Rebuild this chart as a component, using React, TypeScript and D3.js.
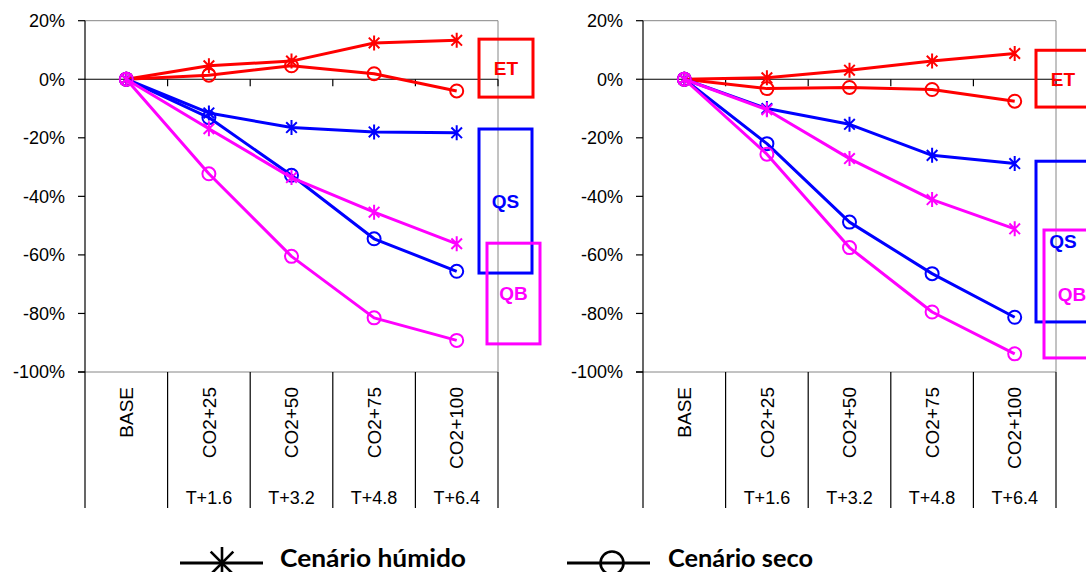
import React from "react";
import * as d3 from "d3";

// ---------- data ----------
const CATEGORIES = ["BASE", "CO2+25", "CO2+50", "CO2+75", "CO2+100"];
const SUB_LABELS = ["", "T+1.6", "T+3.2", "T+4.8", "T+6.4"];
const Y_TICKS = [20, 0, -20, -40, -60, -80, -100];

// left panel (%)
const ET_HUMIDO_1 = [0, 4.6, 6.2, 12.4, 13.3];
const ET_SECO_1 = [0, 1.4, 4.6, 1.9, -4.0];
const QS_HUMIDO_1 = [0, -11.5, -16.5, -18.0, -18.3];
const QS_SECO_1 = [0, -13.1, -32.8, -54.5, -65.6];
const QB_HUMIDO_1 = [0, -16.9, -33.6, -45.4, -56.2];
const QB_SECO_1 = [0, -32.3, -60.5, -81.5, -89.2];

// right panel (%)
const ET_HUMIDO_2 = [0, 0.5, 3.1, 6.2, 8.8];
const ET_SECO_2 = [0, -3.2, -2.8, -3.5, -7.5];
const QS_HUMIDO_2 = [0, -10.0, -15.4, -26.0, -28.8];
const QS_SECO_2 = [0, -22.0, -48.8, -66.4, -81.3];
const QB_HUMIDO_2 = [0, -10.4, -27.1, -41.1, -51.1];
const QB_SECO_2 = [0, -25.6, -57.5, -79.5, -93.8];

const VARIABLES = ["ET", "QS", "QB"];
const LEGEND_LABELS = ["Cenário húmido", "Cenário seco"];

// annotation boxes: value extents (in %) per variable, per panel
const BOX_TOP_1 = [13.7, -17.0, -56.0];
const BOX_BOTTOM_1 = [-6.1, -66.2, -90.4];
const BOX_TOP_2 = [9.9, -28.0, -51.5];
const BOX_BOTTOM_2 = [-9.5, -82.9, -95.2];

// ---------- styles ----------
const COLORS: Record<string, string> = { ET: "#FF0000", QS: "#0000FF", QB: "#FF00FF" };
const AXIS_FONT = "'Liberation Sans', Arial, sans-serif";

type Panel = {
  x0: number;
  x1: number;
  series: { v: string; humid: number[]; dry: number[] }[];
  boxTop: number[];
  boxBottom: number[];
  boxX: [number, number][]; // offsets from plot right edge
};

const PANELS: Panel[] = [
  {
    x0: 85,
    x1: 498,
    series: [
      { v: "ET", humid: ET_HUMIDO_1, dry: ET_SECO_1 },
      { v: "QS", humid: QS_HUMIDO_1, dry: QS_SECO_1 },
      { v: "QB", humid: QB_HUMIDO_1, dry: QB_SECO_1 },
    ],
    boxTop: BOX_TOP_1,
    boxBottom: BOX_BOTTOM_1,
    boxX: [
      [-19, 35],
      [-19, 34],
      [-11, 42],
    ],
  },
  {
    x0: 643,
    x1: 1056,
    series: [
      { v: "ET", humid: ET_HUMIDO_2, dry: ET_SECO_2 },
      { v: "QS", humid: QS_HUMIDO_2, dry: QS_SECO_2 },
      { v: "QB", humid: QB_HUMIDO_2, dry: QB_SECO_2 },
    ],
    boxTop: BOX_TOP_2,
    boxBottom: BOX_BOTTOM_2,
    boxX: [
      [-20, 34],
      [-20, 34],
      [-12, 44],
    ],
  },
];

const Y_TOP = 20.7;
const Y_BOTTOM = 372;
const CAT_BOTTOM = 508;

const yScale = d3.scaleLinear().domain([-100, 20]).range([Y_BOTTOM, Y_TOP]);

function asteriskPath(r: number) {
  const d = r * Math.SQRT1_2;
  return `M0,${-r}V${r}M${-d},${-d}L${d},${d}M${-d},${d}L${d},${-d}`;
}

function PanelView({ p }: { p: Panel }) {
  const x = d3.scaleBand<string>().domain(CATEGORIES).range([p.x0, p.x1]).padding(0);
  const bw = x.bandwidth();
  const cx = (c: string) => (x(c) as number) + bw / 2;
  const line = d3
    .line<number>()
    .x((_, i) => cx(CATEGORIES[i]))
    .y((d) => yScale(d));
  const y0 = yScale(0);
  const boundaries = CATEGORIES.map((c) => x(c) as number).concat([p.x1]);

  return (
    <g>
      {/* frame top/right/bottom (gray) */}
      <path
        d={`M${p.x0},${Y_TOP}H${p.x1}V${Y_BOTTOM}H${p.x0}`}
        fill="none"
        stroke="#868686"
        strokeWidth={1}
      />
      {/* y axis */}
      <line x1={p.x0} x2={p.x0} y1={Y_TOP} y2={Y_BOTTOM} stroke="#000" strokeWidth={1.2} />
      {Y_TICKS.map((t) => (
        <g key={t}>
          <line x1={p.x0 - 7} x2={p.x0} y1={yScale(t)} y2={yScale(t)} stroke="#000" strokeWidth={1.2} />
          <text
            x={p.x0 - 20}
            y={yScale(t)}
            dy="0.36em"
            textAnchor="end"
            fontFamily={AXIS_FONT}
            fontSize={18}
            fill="#000"
          >
            {`${t}%`}
          </text>
        </g>
      ))}
      {/* zero line with ticks */}
      <line x1={p.x0} x2={p.x1} y1={y0} y2={y0} stroke="#000" strokeWidth={1.2} />
      {boundaries.slice(1).map((b, i) => (
        <line key={i} x1={b} x2={b} y1={y0} y2={y0 + 7} stroke="#000" strokeWidth={1.2} />
      ))}
      {/* category divider lines */}
      {boundaries.map((b, i) => (
        <line key={i} x1={b} x2={b} y1={Y_BOTTOM} y2={CAT_BOTTOM} stroke="#000" strokeWidth={1.2} />
      ))}
      <line x1={p.x0 - 7} x2={p.x0} y1={Y_BOTTOM} y2={Y_BOTTOM} stroke="#000" strokeWidth={1.2} />
      {CATEGORIES.map((c, i) => (
        <g key={c}>
          <text
            transform={`translate(${cx(c)},387) rotate(-90)`}
            dy="0.35em"
            textAnchor="end"
            fontFamily={AXIS_FONT}
            fontSize={19}
            fill="#000"
          >
            {c}
          </text>
          {SUB_LABELS[i] && (
            <text x={cx(c)} y={504} textAnchor="middle" fontFamily={AXIS_FONT} fontSize={18} fill="#000">
              {SUB_LABELS[i]}
            </text>
          )}
        </g>
      ))}
      {/* series */}
      {p.series.map((s) => {
        const col = COLORS[s.v];
        return (
          <g key={s.v}>
            <path d={line(s.dry) || ""} fill="none" stroke={col} strokeWidth={3} strokeLinejoin="round" />
            <path d={line(s.humid) || ""} fill="none" stroke={col} strokeWidth={3} strokeLinejoin="round" />
            {s.dry.map((d, i) => (
              <circle key={"d" + i} cx={cx(CATEGORIES[i])} cy={yScale(d)} r={6.5} fill="none" stroke={col} strokeWidth={2} />
            ))}
            {s.humid.map((d, i) => (
              <path
                key={"h" + i}
                transform={`translate(${cx(CATEGORIES[i])},${yScale(d)})`}
                d={asteriskPath(7.5)}
                stroke={col}
                strokeWidth={2}
                fill="none"
              />
            ))}
          </g>
        );
      })}
      {/* annotation boxes */}
      {VARIABLES.map((v, i) => {
        const col = COLORS[v];
        const bx0 = p.x1 + p.boxX[i][0];
        const bx1 = p.x1 + p.boxX[i][1];
        const by0 = yScale(p.boxTop[i]);
        const by1 = yScale(p.boxBottom[i]);
        return (
          <g key={v}>
            <rect x={bx0} y={by0} width={bx1 - bx0} height={by1 - by0} fill="none" stroke={col} strokeWidth={3} />
            <text
              x={(bx0 + bx1) / 2}
              y={(by0 + by1) / 2}
              dy="0.36em"
              textAnchor="middle"
              fontFamily={AXIS_FONT}
              fontWeight="bold"
              fontSize={19}
              fill={col}
            >
              {v}
            </text>
          </g>
        );
      })}
    </g>
  );
}

export default function App() {
  return (
    <svg
      width={1086}
      height={572}
      style={{ position: "absolute", left: 0, top: 0, background: "#fff" }}
    >
      <rect x={0} y={0} width={1086} height={572} fill="#fff" />
      {PANELS.map((p, i) => (
        <PanelView key={i} p={p} />
      ))}
      {/* legend */}
      <g>
        <line x1={180} x2={263} y1={563} y2={563} stroke="#000" strokeWidth={2.8} />
        <path transform="translate(222,563)" d={asteriskPath(16)} stroke="#000" strokeWidth={2.6} fill="none" />
        <text
          x={280}
          y={567}
          fontFamily="Lato, 'Noto Sans', sans-serif"
          fontWeight="bold"
          fontSize={25}
          textLength={186}
          lengthAdjust="spacingAndGlyphs"
          fill="#000"
        >
          {LEGEND_LABELS[0]}
        </text>
        <line x1={567} x2={650} y1={563} y2={563} stroke="#000" strokeWidth={2.8} />
        <circle cx={612} cy={563} r={11.5} fill="none" stroke="#000" strokeWidth={2.6} />
        <text
          x={668}
          y={567}
          fontFamily="Lato, 'Noto Sans', sans-serif"
          fontWeight="bold"
          fontSize={25}
          textLength={145}
          lengthAdjust="spacingAndGlyphs"
          fill="#000"
        >
          {LEGEND_LABELS[1]}
        </text>
      </g>
    </svg>
  );
}
